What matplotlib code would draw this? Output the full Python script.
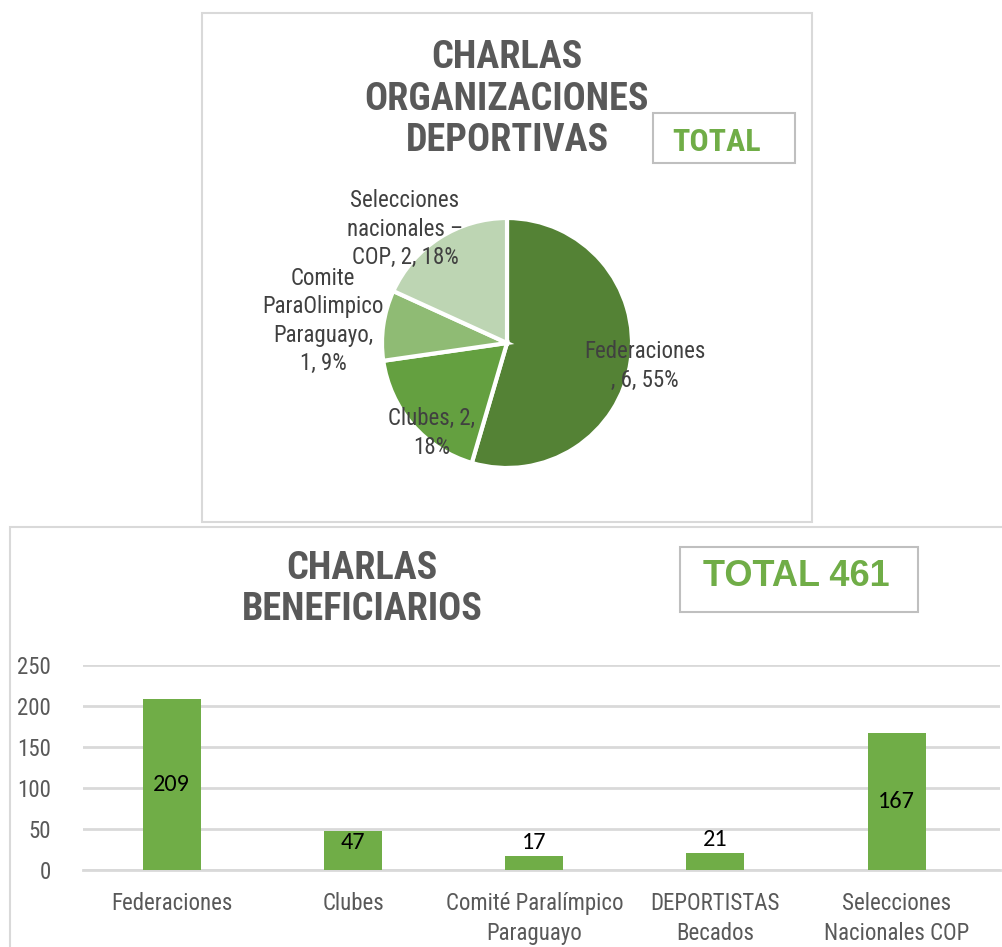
import matplotlib
matplotlib.use("Agg")
import matplotlib.pyplot as plt
from matplotlib.patches import Rectangle

pie_labels = ["Federaciones", "Clubes", "Comite ParaOlimpico Paraguayo", "Selecciones nacionales – COP"]
pie_values = [6, 2, 1, 2]
pie_colors = ["#548235", "#64a040", "#8fbb74", "#bdd5b3"]

bar_cats = ["Federaciones", "Clubes", "Comité Paralímpico\nParaguayo", "DEPORTISTAS\nBecados", "Selecciones\nNacionales COP"]
bar_values = [209, 47, 17, 21, 167]

W, H = 1003, 947
NARROW = ["Roboto Condensed", "Liberation Sans", "DejaVu Sans"]
WIDE = ["Liberation Sans", "DejaVu Sans"]
CALI = ["Carlito", "Liberation Sans", "DejaVu Sans"]
GRAY = "#595959"
TXT = "#404040"
GREEN = "#70AD47"


def fx(x):
    return x / W


def fy(y):
    return 1 - y / H


fig = plt.figure(figsize=(W / 100, H / 100), dpi=100)

# panel borders
fig.patches.append(Rectangle((fx(202), fy(522)), fx(610), 509 / H, transform=fig.transFigure,
                             fill=False, edgecolor="#d9d9d9", lw=1.5))
fig.patches.append(Rectangle((fx(10), fy(960)), fx(1010), 433 / H, transform=fig.transFigure,
                             fill=False, edgecolor="#d9d9d9", lw=1.5))

# ---- pie chart ----
ax1 = fig.add_axes([fx(382), fy(468), 250 / W, 250 / H])
ax1.pie(pie_values, colors=pie_colors, startangle=90, counterclock=False,
        wedgeprops=dict(edgecolor="white", linewidth=3))
ax1.set_xlim(-1, 1)
ax1.set_ylim(-1, 1)

fig.text(fx(507), fy(99), "CHARLAS\nORGANIZACIONES\nDEPORTIVAS", ha="center", va="center",
         fontsize=27.5, fontweight="bold", color=GRAY, family=NARROW, linespacing=1.17)
fig.patches.append(Rectangle((fx(653), fy(163)), fx(142), 50 / H, transform=fig.transFigure,
                             fill=False, edgecolor="#bfbfbf", lw=1.5))
fig.text(fx(717), fy(142), "TOTAL", ha="center", va="center", fontsize=23,
         fontweight="bold", color=GREEN, family=NARROW)

pie_text = [
    (645, 366, "Federaciones\n, 6, 55%"),
    (432, 433, "Clubes, 2,\n18%"),
    (323, 321, "Comite\nParaOlimpico\nParaguayo,\n1, 9%"),
    (405, 229, "Selecciones\nnacionales –\nCOP, 2, 18%"),
]
for x, y, s in pie_text:
    fig.text(fx(x), fy(y), s, ha="center", va="center", fontsize=16.5, color=TXT,
             family=NARROW, linespacing=1.3)

# ---- bar chart ----
ax2 = fig.add_axes([fx(83), fy(870), 917 / W, 205 / H])
x = range(len(bar_values))
ax2.bar(x, bar_values, width=0.32, color=GREEN, zorder=3)
ax2.set_xlim(-0.49, 4.57)
ax2.set_ylim(0, 250)
ax2.set_yticks(range(0, 251, 50))
ax2.grid(axis="y", color="#d9d9d9", lw=2, zorder=0)
for sp in ["top", "right", "left"]:
    ax2.spines[sp].set_visible(False)
ax2.spines["bottom"].set_color("#d9d9d9")
ax2.spines["bottom"].set_linewidth(2)
ax2.tick_params(length=0, labelsize=16.5, labelcolor=GRAY)
ax2.tick_params(axis="x", pad=16)
ax2.tick_params(axis="y", pad=23)
ax2.set_xticks(list(x))
ax2.set_xticklabels(bar_cats, family=NARROW, linespacing=1.4)
for lab in ax2.get_yticklabels():
    lab.set_family(NARROW)

for i, v in enumerate(bar_values):
    if v > 100:
        ax2.text(i, v / 2, str(v), ha="center", va="center", fontsize=17.5, family=CALI, color="black", zorder=4)
    elif v > 40:
        ax2.text(i, 34, str(v), ha="center", va="center", fontsize=17.5, family=CALI, color="black", zorder=4)
    else:
        ax2.annotate(str(v), (i, v), xytext=(0, 2), textcoords="offset points", ha="center",
                     va="bottom", fontsize=17.5, family=CALI, color="black", zorder=4)

fig.text(fx(362), fy(589), "CHARLAS\nBENEFICIARIOS", ha="center", va="center",
         fontsize=27.5, fontweight="bold", color=GRAY, family=NARROW, linespacing=1.17)
fig.patches.append(Rectangle((fx(680), fy(612)), fx(238), 65 / H, transform=fig.transFigure,
                             fill=False, edgecolor="#bfbfbf", lw=1.5))
fig.text(fx(796), fy(577), "TOTAL 461", ha="center", va="center", fontsize=26,
         fontweight="bold", color=GREEN, family=WIDE)

fig.savefig("out.png", dpi=100)
